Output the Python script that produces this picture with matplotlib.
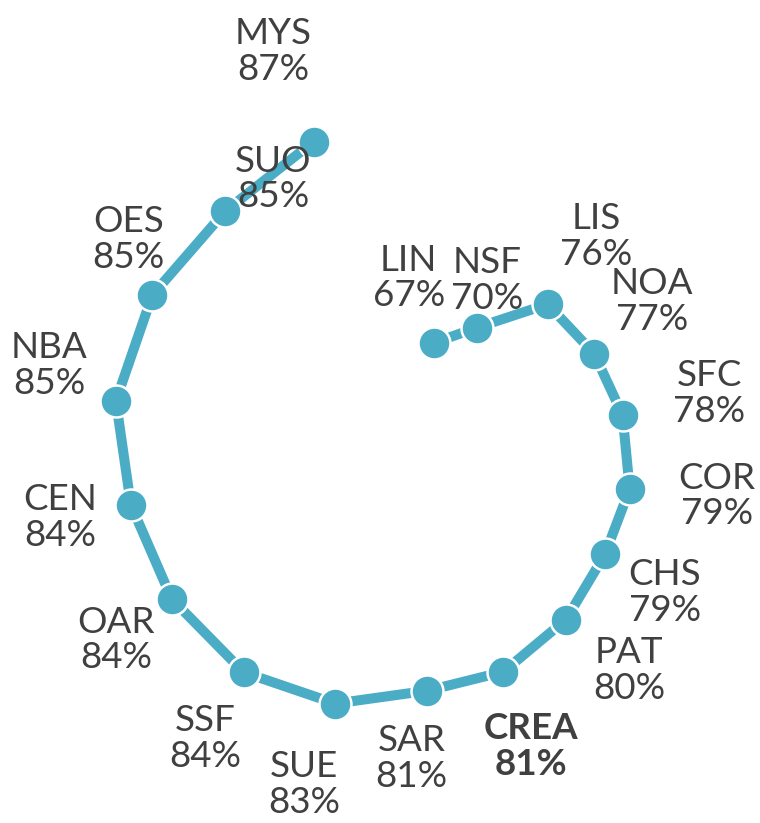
import numpy as np
import matplotlib.pyplot as plt

plt.rcParams['font.family'] = ['Lato', 'DejaVu Sans']

# data, in drawing order (inner end of the spiral first)
codes = ['LIN', 'NSF', 'LIS', 'NOA', 'SFC', 'COR', 'CHS', 'PAT', 'CREA',
         'SAR', 'SUE', 'SSF', 'OAR', 'CEN', 'NBA', 'OES', 'SUO', 'MYS']
scores = [67, 70, 76, 77, 78, 79, 79, 80, 81, 81, 83, 84, 84, 84, 85, 85, 85, 87]
# position of each point around the spiral, degrees clockwise from the top
spiral_deg = [16, 32, 46, 65, 83, 102, 119.5, 138, 157, 175,
              195, 215, 236, 257, 278, 300, 322, 343]
highlight = 'CREA'

# label offsets from their point, in pixels (x right, y up)
label_offsets = [(-25, 65), (10, 47), (49, 68), (58, 52), (87, 21), (87, -7),
                 (60, -38), (63, -51), (28, -75), (-16, -68), (-31, -81), (-39, -66),
                 (-56, -41), (-71, -13), (-67, 35), (-24, 56), (48, 32), (-41, 90)]

blue = '#4BACC6'
grey = '#404040'

fig = plt.figure(figsize=(7.6, 8.23), dpi=100)
# polar axes centred at about (406, 441) px of the picture
ax = fig.add_axes([0.0793, 0.0441, 0.9087, 0.8391], projection='polar')
ax.set_theta_zero_location('N')
ax.set_theta_direction(-1)

theta = np.deg2rad(spiral_deg)
ax.plot(theta, scores, color=blue, lw=7.2, solid_capstyle='round', zorder=2,
        clip_on=False)
ax.plot(theta, scores, 'o', ms=23, color=blue, mec='white', mew=1.8, zorder=3,
        clip_on=False)

for t, c, v, off in zip(theta, codes, scores, label_offsets):
    bold = c == highlight
    ax.annotate(f'{c}\n{v}%', (t, v), xytext=off, textcoords='offset pixels',
                ha='center', va='center', fontsize=26.5, color=grey,
                fontweight='bold' if bold else 'normal', linespacing=1.1,
                zorder=4, annotation_clip=False)

ax.set_ylim(57.3, 90)
ax.axis('off')

fig.savefig('out.png', dpi=100)
